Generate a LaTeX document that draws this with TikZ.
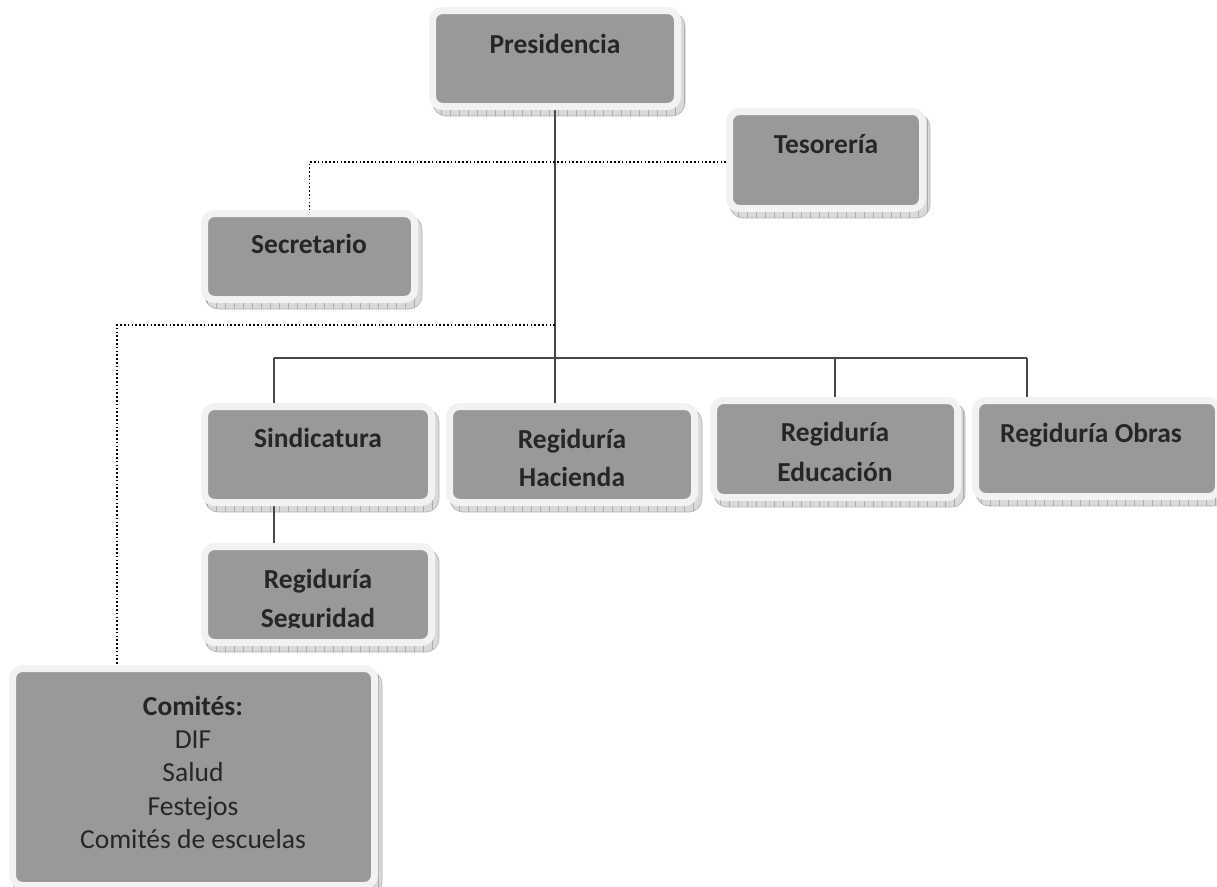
\documentclass[tikz,border=0pt]{standalone}
\usepackage{fontspec}
\setmainfont{Carlito}
\usetikzlibrary{backgrounds,patterns.meta}
\definecolor{boxgray}{HTML}{999999}
\definecolor{rimgray}{HTML}{F2F2F2}
\definecolor{txtgray}{HTML}{262626}
\newcommand\dropbox[1]{\path[shadowbox] ([shift={(4,6)}]#1.north west) rectangle ([shift={(4,6)}]#1.south east);}
\begin{document}
\begin{tikzpicture}[x=1pt,y=-1pt,
  orgbox/.style={draw=rimgray, fill=boxgray, line width=7pt, rounded corners=10pt, inner sep=0pt},
  lbl/.style={font=\fontsize{27.5}{33}\selectfont\bfseries, text=txtgray, inner sep=0pt, anchor=base},
  lblr/.style={font=\fontsize{27.5}{33}\selectfont, text=txtgray, inner sep=0pt, anchor=base},
  conn/.style={draw=black!72, line width=1.8pt},
  dotc/.style={draw=black, line width=1.8pt, dash pattern=on 1.6pt off 2.2pt},
  shadowbox/.style={fill=gray!30, draw=gray!60, line width=0.6pt, rounded corners=13pt,
    postaction={pattern={Lines[angle=90,distance=9pt,line width=0.5pt]}, pattern color=gray!65}}]
\useasboundingbox (0,0) rectangle (1217,886);

% boxes
\node[orgbox, minimum width=245, minimum height=96] (pres) at (555,58.5) {};
\node[orgbox, minimum width=193, minimum height=97] (tes) at (826,160) {};
\node[orgbox, minimum width=210, minimum height=86] (sec) at (309.5,256.5) {};
\node[orgbox, minimum width=227, minimum height=96] (sin) at (318,454.5) {};
\node[orgbox, minimum width=245, minimum height=96] (hac) at (572,454.5) {};
\node[orgbox, minimum width=244, minimum height=97] (edu) at (835.5,449) {};
\node[orgbox, minimum width=243, minimum height=96] (obr) at (1097,448.5) {};
\node[orgbox, minimum width=227, minimum height=96] (seg) at (318,594.5) {};
\node[orgbox, minimum width=362, minimum height=217] (com) at (193.5,777) {};

% texts
\node[lbl] (tpres) at (555,53) {Presidencia};
\node[lbl] (ttes) at (826,153) {Tesorería};
\node[lbl] (tsec) at (309,253) {Secretario};
\node[lbl] (tsin) at (318,447) {Sindicatura};
\node[lbl] (thac1) at (572,448) {Regiduría};
\node[lbl] (thac2) at (572,486) {Hacienda};
\node[lbl] (tedu1) at (835,441) {Regiduría};
\node[lbl] (tedu2) at (835,481) {Educación};
\node[lbl] (tobr) at (1091,442) {Regiduría Obras};
\begin{scope}
  \clip (200,540) rectangle (440,627.5);
  \node[lbl] (tseg1) at (318,588) {Regiduría};
  \node[lbl] (tseg2) at (318,627) {Seguridad};
\end{scope}
\node[lbl] (tcom1) at (193,715) {Comités:};
\node[lblr] (tcom2) at (193,748) {DIF};
\node[lblr] (tcom3) at (193,781) {Salud};
\node[lblr] (tcom4) at (193,815) {Festejos};
\node[lblr] (tcom5) at (193,848) {Comités de escuelas};

\begin{pgfonlayer}{background}
  \dropbox{pres}\dropbox{tes}\dropbox{sec}\dropbox{sin}\dropbox{hac}
  \dropbox{edu}\dropbox{obr}\dropbox{seg}\dropbox{com}
  % solid connectors
  \coordinate (busL) at (274,358);
  \coordinate (busR) at (1027,358);
  \coordinate (busM) at (555,358);
  \coordinate (busE) at (835,358);
  \draw[conn] (pres.south) -- (busM);
  \draw[conn] (busL) -- (busR);
  \draw[conn] (busL) -- (busL |- sin.north);
  \draw[conn] (busM) -- (busM |- hac.north);
  \draw[conn] (busE) -- (busE |- edu.north);
  \draw[conn] (busR) -- (busR |- obr.north);
  \draw[conn] (busL |- sin.south) -- (busL |- seg.north);
  % dotted connectors
  \coordinate (tesL) at ([yshift=-2]tes.west);
  \draw[dotc] (tesL) -| (sec.north);
  \coordinate (jc) at (555,325);
  \coordinate (cturn) at (117,325);
  \draw[dotc] (jc) -- (cturn) -- (cturn |- com.north);
\end{pgfonlayer}
\end{tikzpicture}
\end{document}
